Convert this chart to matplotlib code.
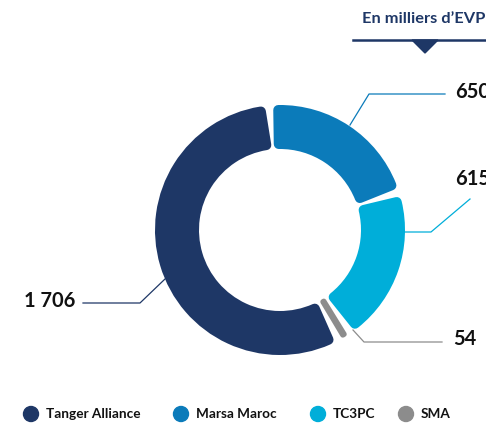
import numpy as np
import matplotlib.pyplot as plt
from matplotlib.patches import Circle, Polygon

# volumes (milliers d'EVP)
terminals = ['Marsa Maroc', 'TC3PC', 'SMA', 'Tanger Alliance']
volumes = [650, 615, 54, 1706]
labels = ['650', '615', '54', '1 706']
colors = ['#0b7bba', '#00aed9', '#8c8c8c', '#1e3766']

legend_order = ['Tanger Alliance', 'Marsa Maroc', 'TC3PC', 'SMA']

W, H = 486, 424
fig = plt.figure(figsize=(W / 100, H / 100), dpi=100)
ax = fig.add_axes([0, 0, 1, 1])
plt.rcParams['font.family'] = ['Lato', 'DejaVu Sans']

cx, cy = 280, H - 230
R, ring = 125, 44
gap = 5

wedges, _ = ax.pie(volumes, colors=colors, startangle=95, counterclock=False,
                   radius=R, center=(cx, cy), wedgeprops=dict(width=ring))

# shrink each wedge and redraw with a thick same-colour stroke -> rounded corners
rmid = R - ring / 2
px2pt = 72 / 100
for w in wedges:
    span = np.radians(w.theta2 - w.theta1)
    avail = span * rmid - gap
    c = min(5, avail / 2 * 0.8)
    d = np.degrees((gap / 2 + c) / rmid)
    w.set_theta1(w.theta1 + d)
    w.set_theta2(w.theta2 - d)
    w.set_radius(R - c)
    w.set_width(ring - 2 * c)
    w.set_edgecolor(w.get_facecolor())
    w.set_linewidth(2 * c * px2pt)
    w.set_joinstyle('round')

ax.set_xlim(0, W)
ax.set_ylim(0, H)
ax.set_aspect('equal')
ax.axis('off')

# leader lines and values
leaders = [
    ([350, 369, 445], [125, 94, 94], 455, 92, 'left'),
    ([404, 431, 470], [232, 232, 199], 455, 179, 'left'),
    ([353, 364, 442], [330, 342, 342], 453, 339, 'left'),
    ([165, 140, 83], [279, 303, 303], 75, 301, 'right'),
]
for i, (xs, ys, tx, ty, ha) in enumerate(leaders):
    ax.plot(xs, [H - y for y in ys], color=colors[i], lw=0.9)
    ax.text(tx, H - ty, labels[i], fontsize=14.5, fontweight='bold',
            color='#111111', ha=ha, va='center')

# header
ax.text(362, H - 19, "En milliers d\u2019EVP", fontsize=11.8, fontweight='bold',
        color='#1e3766', va='center', ha='left')
ax.plot([353, W], [H - 40, H - 40], color='#1e3766', lw=1.8)
ax.add_patch(Polygon([[412, H - 40], [438, H - 40], [425, H - 53]],
                     closed=True, color='#1e3766'))

# legend
leg_x = [31, 181, 318, 406]
for name, x in zip(legend_order, leg_x):
    col = colors[terminals.index(name)]
    ax.add_patch(Circle((x, H - 414), 7.5, color=col))
    ax.text(x + 15, H - 414, name, fontsize=9.8, fontweight='bold',
            color='#111111', va='center', ha='left')

fig.savefig('out.png', dpi=100)
